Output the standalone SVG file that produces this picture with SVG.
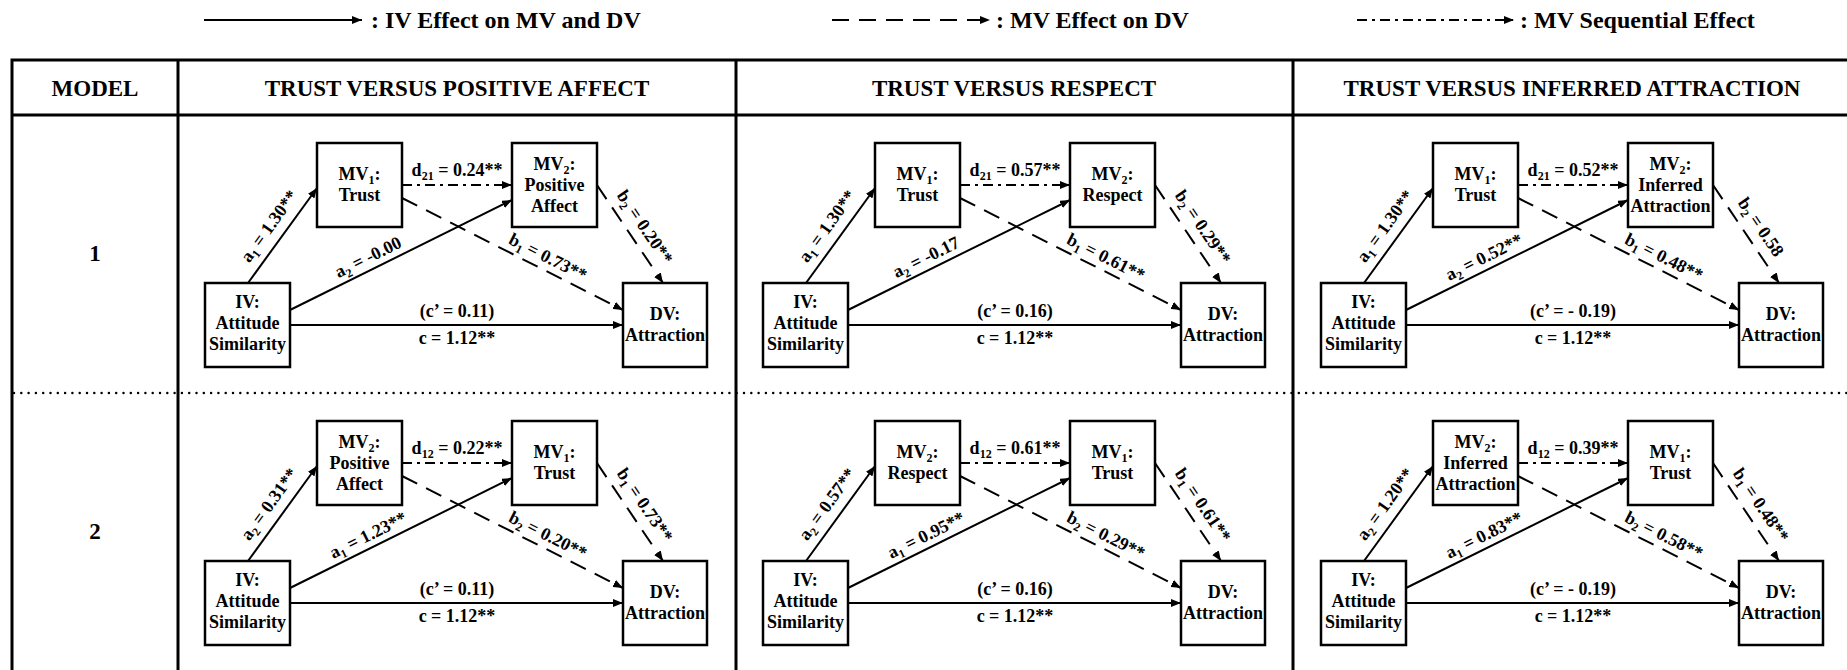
<svg xmlns="http://www.w3.org/2000/svg" width="1847" height="670" viewBox="0 0 1847 670">
<defs>
<style>
text { font-family: "Liberation Serif", "Times New Roman", serif; font-weight: bold; fill: #000; }
.hdr { font-size: 23px; text-anchor: middle; }
.leg { font-size: 24px; }
.nt { font-size: 18px; text-anchor: middle; }
.lb { font-size: 18px; text-anchor: middle; }
.sub { font-size: 12px; }
.box { fill: #fff; stroke: #000; stroke-width: 2.5; }
.ln { stroke: #000; stroke-width: 2; fill: none; marker-end: url(#ah); }
.dash { stroke-dasharray: 17 10; }
.dd { stroke-dasharray: 10 5 3 5; }
.grid { stroke: #000; stroke-width: 3; fill: none; }
.dots { stroke: #000; stroke-width: 2.5; fill: none; stroke-dasharray: 0 7.3; stroke-linecap: round; }
</style>
<marker id="ah" viewBox="0 0 10 8" refX="10" refY="4" markerWidth="10" markerHeight="8" markerUnits="userSpaceOnUse" orient="auto"><path d="M0,0 L10,4 L0,8 z" fill="#000"/></marker>
</defs>
<rect width="1847" height="670" fill="#fff"/>

<g id="legend">
<line class="ln" x1="204" y1="20" x2="362" y2="20"/>
<text class="leg" x="371" y="28">: IV Effect on MV and DV</text>
<line class="ln dash" x1="832" y1="20" x2="990" y2="20"/>
<text class="leg" x="996" y="28">: MV Effect on DV</text>
<line class="ln dd" x1="1357" y1="20" x2="1514" y2="20"/>
<text class="leg" x="1520" y="28">: MV Sequential Effect</text>
</g>

<g id="table">
<path class="grid" d="M12,60 H1847 M12,115 H1847 M12,58.5 V670 M178,60 V670 M736,60 V670 M1293,60 V670"/>
<line class="dots" x1="14" y1="393" x2="1847" y2="393"/>
<text class="hdr" x="95" y="96">MODEL</text>
<text class="hdr" x="457" y="96">TRUST VERSUS POSITIVE AFFECT</text>
<text class="hdr" x="1014" y="96">TRUST VERSUS RESPECT</text>
<text class="hdr" x="1572" y="96">TRUST VERSUS INFERRED ATTRACTION</text>
<text class="hdr" x="95" y="261">1</text>
<text class="hdr" x="95" y="539">2</text>
</g>

<!-- Panel col1 row1 -->
<g id="p11" transform="translate(0,0)">
<g id="p11-edges">
<path class="ln" d="M248,283 L317,188"/>
<path class="ln" d="M290,310 L512,200"/>
<path class="ln dd" d="M402,185 L512,185"/>
<path class="ln dash" d="M402,198 L623,310"/>
<path class="ln dash" d="M597,185 L663,283"/>
<path class="ln" d="M290,325 L623,325"/>
<text class="lb" transform="translate(269,226) rotate(-54)" y="6">a<tspan class="sub" dy="4">1</tspan><tspan dy="-4"> = 1.30**</tspan></text>
<text class="lb" transform="translate(368,257) rotate(-26.4)" y="6">a<tspan class="sub" dy="4">2</tspan><tspan dy="-4"> = -0.00</tspan></text>
<text class="lb" x="457" y="176">d<tspan class="sub" dy="4">21</tspan><tspan dy="-4"> = 0.24**</tspan></text>
<text class="lb" transform="translate(548,257) rotate(26.9)" y="6">b<tspan class="sub" dy="4">1</tspan><tspan dy="-4"> = 0.73**</tspan></text>
<text class="lb" transform="translate(645,227) rotate(56)" y="6">b<tspan class="sub" dy="4">2</tspan><tspan dy="-4"> = 0.20**</tspan></text>
<text class="lb" x="457" y="317">(c’ = 0.11)</text>
<text class="lb" x="457" y="344">c = 1.12**</text>
</g>
<g id="p11-iv"><rect class="box" x="205" y="283" width="85" height="84"/><text class="nt" x="247.5" y="308">IV:</text><text class="nt" x="247.5" y="329">Attitude</text><text class="nt" x="247.5" y="350">Similarity</text></g>
<g id="p11-mv1"><rect class="box" x="317" y="143" width="85" height="84"/><text class="nt" x="359.5" y="180">MV<tspan class="sub" dy="4">1</tspan><tspan dy="-4">:</tspan></text><text class="nt" x="359.5" y="201">Trust</text></g>
<g id="p11-mv2"><rect class="box" x="512" y="143" width="85" height="84"/><text class="nt" x="554.5" y="170">MV<tspan class="sub" dy="4">2</tspan><tspan dy="-4">:</tspan></text><text class="nt" x="554.5" y="191">Positive</text><text class="nt" x="554.5" y="212">Affect</text></g>
<g id="p11-dv"><rect class="box" x="623" y="283" width="84" height="84"/><text class="nt" x="665" y="320">DV:</text><text class="nt" x="665" y="341">Attraction</text></g>
</g>

<!-- Panel col1 row2 -->
<g id="p12" transform="translate(0,278)">
<g id="p12-edges">
<path class="ln" d="M248,283 L317,188"/>
<path class="ln" d="M290,310 L512,200"/>
<path class="ln dd" d="M402,185 L512,185"/>
<path class="ln dash" d="M402,198 L623,310"/>
<path class="ln dash" d="M597,185 L663,283"/>
<path class="ln" d="M290,325 L623,325"/>
<text class="lb" transform="translate(269,226) rotate(-54)" y="6">a<tspan class="sub" dy="4">2</tspan><tspan dy="-4"> = 0.31**</tspan></text>
<text class="lb" transform="translate(368,257) rotate(-26.4)" y="6">a<tspan class="sub" dy="4">1</tspan><tspan dy="-4"> = 1.23**</tspan></text>
<text class="lb" x="457" y="176">d<tspan class="sub" dy="4">12</tspan><tspan dy="-4"> = 0.22**</tspan></text>
<text class="lb" transform="translate(548,257) rotate(26.9)" y="6">b<tspan class="sub" dy="4">2</tspan><tspan dy="-4"> = 0.20**</tspan></text>
<text class="lb" transform="translate(645,227) rotate(56)" y="6">b<tspan class="sub" dy="4">1</tspan><tspan dy="-4"> = 0.73**</tspan></text>
<text class="lb" x="457" y="317">(c’ = 0.11)</text>
<text class="lb" x="457" y="344">c = 1.12**</text>
</g>
<g id="p12-iv"><rect class="box" x="205" y="283" width="85" height="84"/><text class="nt" x="247.5" y="308">IV:</text><text class="nt" x="247.5" y="329">Attitude</text><text class="nt" x="247.5" y="350">Similarity</text></g>
<g id="p12-mv2"><rect class="box" x="317" y="143" width="85" height="84"/><text class="nt" x="359.5" y="170">MV<tspan class="sub" dy="4">2</tspan><tspan dy="-4">:</tspan></text><text class="nt" x="359.5" y="191">Positive</text><text class="nt" x="359.5" y="212">Affect</text></g>
<g id="p12-mv1"><rect class="box" x="512" y="143" width="85" height="84"/><text class="nt" x="554.5" y="180">MV<tspan class="sub" dy="4">1</tspan><tspan dy="-4">:</tspan></text><text class="nt" x="554.5" y="201">Trust</text></g>
<g id="p12-dv"><rect class="box" x="623" y="283" width="84" height="84"/><text class="nt" x="665" y="320">DV:</text><text class="nt" x="665" y="341">Attraction</text></g>
</g>

<!-- Panel col2 row1 -->
<g id="p21" transform="translate(558,0)">
<g id="p21-edges">
<path class="ln" d="M248,283 L317,188"/>
<path class="ln" d="M290,310 L512,200"/>
<path class="ln dd" d="M402,185 L512,185"/>
<path class="ln dash" d="M402,198 L623,310"/>
<path class="ln dash" d="M597,185 L663,283"/>
<path class="ln" d="M290,325 L623,325"/>
<text class="lb" transform="translate(269,226) rotate(-54)" y="6">a<tspan class="sub" dy="4">1</tspan><tspan dy="-4"> = 1.30**</tspan></text>
<text class="lb" transform="translate(368,257) rotate(-26.4)" y="6">a<tspan class="sub" dy="4">2</tspan><tspan dy="-4"> = -0.17</tspan></text>
<text class="lb" x="457" y="176">d<tspan class="sub" dy="4">21</tspan><tspan dy="-4"> = 0.57**</tspan></text>
<text class="lb" transform="translate(548,257) rotate(26.9)" y="6">b<tspan class="sub" dy="4">1</tspan><tspan dy="-4"> = 0.61**</tspan></text>
<text class="lb" transform="translate(645,227) rotate(56)" y="6">b<tspan class="sub" dy="4">2</tspan><tspan dy="-4"> = 0.29**</tspan></text>
<text class="lb" x="457" y="317">(c’ = 0.16)</text>
<text class="lb" x="457" y="344">c = 1.12**</text>
</g>
<g id="p21-iv"><rect class="box" x="205" y="283" width="85" height="84"/><text class="nt" x="247.5" y="308">IV:</text><text class="nt" x="247.5" y="329">Attitude</text><text class="nt" x="247.5" y="350">Similarity</text></g>
<g id="p21-mv1"><rect class="box" x="317" y="143" width="85" height="84"/><text class="nt" x="359.5" y="180">MV<tspan class="sub" dy="4">1</tspan><tspan dy="-4">:</tspan></text><text class="nt" x="359.5" y="201">Trust</text></g>
<g id="p21-mv2"><rect class="box" x="512" y="143" width="85" height="84"/><text class="nt" x="554.5" y="180">MV<tspan class="sub" dy="4">2</tspan><tspan dy="-4">:</tspan></text><text class="nt" x="554.5" y="201">Respect</text></g>
<g id="p21-dv"><rect class="box" x="623" y="283" width="84" height="84"/><text class="nt" x="665" y="320">DV:</text><text class="nt" x="665" y="341">Attraction</text></g>
</g>

<!-- Panel col2 row2 -->
<g id="p22" transform="translate(558,278)">
<g id="p22-edges">
<path class="ln" d="M248,283 L317,188"/>
<path class="ln" d="M290,310 L512,200"/>
<path class="ln dd" d="M402,185 L512,185"/>
<path class="ln dash" d="M402,198 L623,310"/>
<path class="ln dash" d="M597,185 L663,283"/>
<path class="ln" d="M290,325 L623,325"/>
<text class="lb" transform="translate(269,226) rotate(-54)" y="6">a<tspan class="sub" dy="4">2</tspan><tspan dy="-4"> = 0.57**</tspan></text>
<text class="lb" transform="translate(368,257) rotate(-26.4)" y="6">a<tspan class="sub" dy="4">1</tspan><tspan dy="-4"> = 0.95**</tspan></text>
<text class="lb" x="457" y="176">d<tspan class="sub" dy="4">12</tspan><tspan dy="-4"> = 0.61**</tspan></text>
<text class="lb" transform="translate(548,257) rotate(26.9)" y="6">b<tspan class="sub" dy="4">2</tspan><tspan dy="-4"> = 0.29**</tspan></text>
<text class="lb" transform="translate(645,227) rotate(56)" y="6">b<tspan class="sub" dy="4">1</tspan><tspan dy="-4"> = 0.61**</tspan></text>
<text class="lb" x="457" y="317">(c’ = 0.16)</text>
<text class="lb" x="457" y="344">c = 1.12**</text>
</g>
<g id="p22-iv"><rect class="box" x="205" y="283" width="85" height="84"/><text class="nt" x="247.5" y="308">IV:</text><text class="nt" x="247.5" y="329">Attitude</text><text class="nt" x="247.5" y="350">Similarity</text></g>
<g id="p22-mv2"><rect class="box" x="317" y="143" width="85" height="84"/><text class="nt" x="359.5" y="180">MV<tspan class="sub" dy="4">2</tspan><tspan dy="-4">:</tspan></text><text class="nt" x="359.5" y="201">Respect</text></g>
<g id="p22-mv1"><rect class="box" x="512" y="143" width="85" height="84"/><text class="nt" x="554.5" y="180">MV<tspan class="sub" dy="4">1</tspan><tspan dy="-4">:</tspan></text><text class="nt" x="554.5" y="201">Trust</text></g>
<g id="p22-dv"><rect class="box" x="623" y="283" width="84" height="84"/><text class="nt" x="665" y="320">DV:</text><text class="nt" x="665" y="341">Attraction</text></g>
</g>

<!-- Panel col3 row1 -->
<g id="p31" transform="translate(1116,0)">
<g id="p31-edges">
<path class="ln" d="M248,283 L317,188"/>
<path class="ln" d="M290,310 L512,200"/>
<path class="ln dd" d="M402,185 L512,185"/>
<path class="ln dash" d="M402,198 L623,310"/>
<path class="ln dash" d="M597,185 L663,283"/>
<path class="ln" d="M290,325 L623,325"/>
<text class="lb" transform="translate(269,226) rotate(-54)" y="6">a<tspan class="sub" dy="4">1</tspan><tspan dy="-4"> = 1.30**</tspan></text>
<text class="lb" transform="translate(368,257) rotate(-26.4)" y="6">a<tspan class="sub" dy="4">2</tspan><tspan dy="-4"> = 0.52**</tspan></text>
<text class="lb" x="457" y="176">d<tspan class="sub" dy="4">21</tspan><tspan dy="-4"> = 0.52**</tspan></text>
<text class="lb" transform="translate(548,257) rotate(26.9)" y="6">b<tspan class="sub" dy="4">1</tspan><tspan dy="-4"> = 0.48**</tspan></text>
<text class="lb" transform="translate(645,227) rotate(56)" y="6">b<tspan class="sub" dy="4">2</tspan><tspan dy="-4"> = 0.58</tspan></text>
<text class="lb" x="457" y="317">(c’ = - 0.19)</text>
<text class="lb" x="457" y="344">c = 1.12**</text>
</g>
<g id="p31-iv"><rect class="box" x="205" y="283" width="85" height="84"/><text class="nt" x="247.5" y="308">IV:</text><text class="nt" x="247.5" y="329">Attitude</text><text class="nt" x="247.5" y="350">Similarity</text></g>
<g id="p31-mv1"><rect class="box" x="317" y="143" width="85" height="84"/><text class="nt" x="359.5" y="180">MV<tspan class="sub" dy="4">1</tspan><tspan dy="-4">:</tspan></text><text class="nt" x="359.5" y="201">Trust</text></g>
<g id="p31-mv2"><rect class="box" x="512" y="143" width="85" height="84"/><text class="nt" x="554.5" y="170">MV<tspan class="sub" dy="4">2</tspan><tspan dy="-4">:</tspan></text><text class="nt" x="554.5" y="191">Inferred</text><text class="nt" x="554.5" y="212">Attraction</text></g>
<g id="p31-dv"><rect class="box" x="623" y="283" width="84" height="84"/><text class="nt" x="665" y="320">DV:</text><text class="nt" x="665" y="341">Attraction</text></g>
</g>

<!-- Panel col3 row2 -->
<g id="p32" transform="translate(1116,278)">
<g id="p32-edges">
<path class="ln" d="M248,283 L317,188"/>
<path class="ln" d="M290,310 L512,200"/>
<path class="ln dd" d="M402,185 L512,185"/>
<path class="ln dash" d="M402,198 L623,310"/>
<path class="ln dash" d="M597,185 L663,283"/>
<path class="ln" d="M290,325 L623,325"/>
<text class="lb" transform="translate(269,226) rotate(-54)" y="6">a<tspan class="sub" dy="4">2</tspan><tspan dy="-4"> = 1.20**</tspan></text>
<text class="lb" transform="translate(368,257) rotate(-26.4)" y="6">a<tspan class="sub" dy="4">1</tspan><tspan dy="-4"> = 0.83**</tspan></text>
<text class="lb" x="457" y="176">d<tspan class="sub" dy="4">12</tspan><tspan dy="-4"> = 0.39**</tspan></text>
<text class="lb" transform="translate(548,257) rotate(26.9)" y="6">b<tspan class="sub" dy="4">2</tspan><tspan dy="-4"> = 0.58**</tspan></text>
<text class="lb" transform="translate(645,227) rotate(56)" y="6">b<tspan class="sub" dy="4">1</tspan><tspan dy="-4"> = 0.48**</tspan></text>
<text class="lb" x="457" y="317">(c’ = - 0.19)</text>
<text class="lb" x="457" y="344">c = 1.12**</text>
</g>
<g id="p32-iv"><rect class="box" x="205" y="283" width="85" height="84"/><text class="nt" x="247.5" y="308">IV:</text><text class="nt" x="247.5" y="329">Attitude</text><text class="nt" x="247.5" y="350">Similarity</text></g>
<g id="p32-mv2"><rect class="box" x="317" y="143" width="85" height="84"/><text class="nt" x="359.5" y="170">MV<tspan class="sub" dy="4">2</tspan><tspan dy="-4">:</tspan></text><text class="nt" x="359.5" y="191">Inferred</text><text class="nt" x="359.5" y="212">Attraction</text></g>
<g id="p32-mv1"><rect class="box" x="512" y="143" width="85" height="84"/><text class="nt" x="554.5" y="180">MV<tspan class="sub" dy="4">1</tspan><tspan dy="-4">:</tspan></text><text class="nt" x="554.5" y="201">Trust</text></g>
<g id="p32-dv"><rect class="box" x="623" y="283" width="84" height="84"/><text class="nt" x="665" y="320">DV:</text><text class="nt" x="665" y="341">Attraction</text></g>
</g>
</svg>
